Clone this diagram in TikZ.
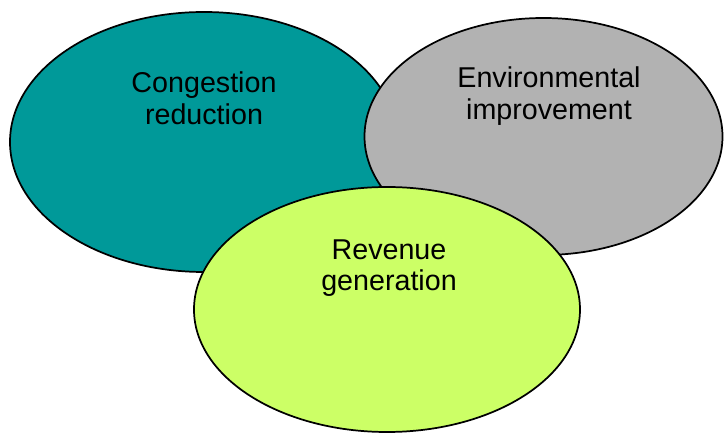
\documentclass[tikz,border=0pt]{standalone}
\usepackage{fontspec}
\setmainfont{Liberation Sans}
\definecolor{teal1}{HTML}{009999}
\definecolor{gray1}{HTML}{B2B2B2}
\definecolor{green1}{HTML}{CCFF66}
\begin{document}
\begin{tikzpicture}[x=0.75pt,y=-0.75pt,
  blob/.style={draw=black,line width=1.3pt},
  lbl/.style={align=center,font=\fontsize{21.5pt}{23.8pt}\selectfont,text=black}]
\useasboundingbox (0,0) rectangle (724,434);
\filldraw[blob,fill=teal1] (204,142) ellipse [x radius=194,y radius=130];
\filldraw[blob,fill=gray1] (543.5,136.5) ellipse [x radius=179,y radius=118.5];
\filldraw[blob,fill=green1] (387,309.5) ellipse [x radius=193,y radius=122.5];
\node[lbl] (c) at (204,98) {Congestion\\reduction};
\node[lbl] (e) at (549,96) {Environmental\\improvement};
\node[lbl] (r) at (389,268) {Revenue\\generation};
\end{tikzpicture}
\end{document}
